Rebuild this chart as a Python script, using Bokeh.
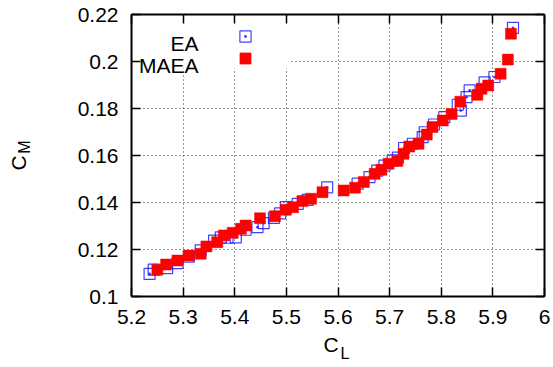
from bokeh.plotting import figure
from bokeh.models import (LinearAxis, Label, Legend, LegendItem, BoxAnnotation,
                          Range1d, CustomJSTickFormatter)
from bokeh.embed import file_html
from bokeh.resources import INLINE

# ---- data ----
ea_cl = [5.235, 5.243, 5.269, 5.289, 5.311, 5.334, 5.360, 5.373, 5.386, 5.402,
         5.421, 5.444, 5.456, 5.476, 5.488, 5.499, 5.522, 5.541, 5.579, 5.638,
         5.661, 5.676, 5.690, 5.706, 5.716, 5.728, 5.745, 5.764, 5.768, 5.786,
         5.806, 5.832, 5.838, 5.849, 5.855, 5.884, 5.903, 5.939]
ea_cm = [0.1096, 0.1114, 0.1121, 0.1142, 0.1170, 0.1196, 0.1238, 0.1252, 0.1250, 0.1252,
         0.1284, 0.1295, 0.1312, 0.1335, 0.1354, 0.1380, 0.1394, 0.1411, 0.1464, 0.1480,
         0.1508, 0.1536, 0.1557, 0.1579, 0.1591, 0.1632, 0.1650, 0.1678, 0.1699, 0.1732,
         0.1763, 0.1816, 0.1791, 0.1848, 0.1877, 0.1911, 0.1934, 0.2143]

maea_cl = [5.250, 5.267, 5.289, 5.311, 5.334, 5.345, 5.366, 5.379, 5.396, 5.412,
           5.421, 5.449, 5.478, 5.499, 5.513, 5.531, 5.548, 5.570, 5.611, 5.633,
           5.650, 5.671, 5.684, 5.698, 5.715, 5.727, 5.738, 5.756, 5.772, 5.783,
           5.803, 5.820, 5.837, 5.870, 5.878, 5.891, 5.915, 5.929, 5.935]
maea_cm = [0.1114, 0.1136, 0.1153, 0.1174, 0.1182, 0.1213, 0.1231, 0.1260, 0.1271, 0.1288,
           0.1302, 0.1333, 0.1342, 0.1369, 0.1380, 0.1406, 0.1416, 0.1444, 0.1451, 0.1463,
           0.1487, 0.1522, 0.1539, 0.1565, 0.1577, 0.1607, 0.1638, 0.1650, 0.1689, 0.1721,
           0.1749, 0.1777, 0.1829, 0.1858, 0.1884, 0.1898, 0.1948, 0.2008, 0.2118]

x_ticks = [5.2, 5.3, 5.4, 5.5, 5.6, 5.7, 5.8, 5.9, 6.0]
x_tick_labels = ["5.2", "5.3", "5.4", "5.5", "5.6", "5.7", "5.8", "5.9", "6"]
y_ticks = [0.1, 0.12, 0.14, 0.16, 0.18, 0.2, 0.22]
y_tick_labels = ["0.1", "0.12", "0.14", "0.16", "0.18", "0.2", "0.22"]
series_names = ["EA", "MAEA"]
x_title = ("C", "L")   # C with subscript L
y_title = ("C", "M")   # C with subscript M

FONT = "Liberation Sans"
TICK_FS = "21px"
SUB_FS = "16px"

p = figure(width=553, height=367,
           x_range=Range1d(x_ticks[0], x_ticks[-1]),
           y_range=Range1d(y_ticks[0], y_ticks[-1]),
           output_backend="svg", toolbar_location=None,
           min_border_left=131, min_border_right=9,
           min_border_top=14, min_border_bottom=71)
p.outline_line_color = None
p.background_fill_color = "white"
p.border_fill_color = "white"

# grids
p.xgrid.ticker = x_ticks
p.ygrid.ticker = y_ticks
for g in (p.xgrid, p.ygrid):
    g.grid_line_color = "#333333"
    g.grid_line_dash = "1 3"
    g.grid_line_width = 1


def style_axis(ax, labels=True):
    ax.axis_line_color = "black"
    ax.axis_line_width = 2
    ax.major_tick_in = 9
    ax.major_tick_out = 0
    ax.major_tick_line_width = 1.5
    ax.major_tick_line_color = "black"
    ax.minor_tick_line_color = None
    if labels:
        ax.major_label_text_font = FONT
        ax.major_label_text_font_size = TICK_FS
        ax.major_label_text_color = "black"
    else:
        ax.formatter = CustomJSTickFormatter(code="return ''")
        ax.major_label_text_font_size = "1px"
        ax.major_label_standoff = 0


xa = p.xaxis[0]
ya = p.yaxis[0]
xa.ticker = x_ticks
ya.ticker = y_ticks
xa.major_label_overrides = {t: s for t, s in zip(x_ticks, x_tick_labels)}
ya.major_label_overrides = {t: s for t, s in zip(y_ticks, y_tick_labels)}
style_axis(xa)
style_axis(ya)
xa.major_label_standoff = 13
ya.major_label_standoff = 13

top_ax = LinearAxis(ticker=x_ticks)
right_ax = LinearAxis(ticker=y_ticks)
style_axis(top_ax, labels=False)
style_axis(right_ax, labels=False)
p.add_layout(top_ax, "above")
p.add_layout(right_ax, "right")


# axis titles (letter + subscript) written as lone tick labels of bare axes,
# so that they sit outside the plot frame
def title_axis(pos, text, size, standoff, vertical=False):
    ax = LinearAxis(ticker=[pos], major_label_overrides={pos: text})
    ax.axis_line_color = None
    ax.major_tick_line_color = None
    ax.minor_tick_line_color = None
    ax.major_tick_in = 0
    ax.major_tick_out = 0
    ax.major_label_standoff = standoff
    ax.major_label_text_font = FONT
    ax.major_label_text_font_size = size
    ax.major_label_text_color = "black"
    if vertical:
        ax.major_label_orientation = "vertical"
    return ax


p.add_layout(title_axis(5.5864, x_title[0], TICK_FS, 6), "below")
p.add_layout(title_axis(5.6136, x_title[1], SUB_FS, -14), "below")
p.add_layout(title_axis(0.16362, y_title[1], SUB_FS, 41, vertical=True), "left")
p.add_layout(title_axis(0.15681, y_title[0], TICK_FS, -17, vertical=True), "left")

# white key area (covers the grid like the original key box)
p.add_layout(BoxAnnotation(left=5.2, right=5.5087, bottom=0.197, top=0.22,
                           fill_color="white", fill_alpha=1.0, line_color=None,
                           level="underlay"))

# data
r_ea = p.scatter(ea_cl, ea_cm, marker="square_dot", size=11,
                 fill_color=None, line_color="#0000ff", line_alpha=0.75, line_width=1.2)
r_maea = p.scatter(maea_cl, maea_cm, marker="square", size=11,
                   fill_color="#ff0000", line_color="#ff0000", line_width=0.5)

# key symbols (text drawn to their left, as in the original)
for r, vy in ((r_ea, 246.5), (r_maea, 224.5)):
    p.add_layout(Legend(items=[LegendItem(label=" ", renderers=[r])],
                        location=(99.5, vy), padding=0, margin=0, spacing=0,
                        glyph_width=28, glyph_height=28, label_height=28, label_width=1,
                        label_standoff=0, label_text_font_size="1px",
                        background_fill_alpha=0, border_line_color=None))

for i, name in enumerate(series_names):
    p.add_layout(Label(x=5.2, y=0.22, x_offset=67, y_offset=-29 - 22 * i, text=name,
                       text_align="right", text_baseline="alphabetic",
                       text_font=FONT, text_font_size=TICK_FS, text_color="black"))

open("out.html", "w").write(file_html(p, INLINE))
